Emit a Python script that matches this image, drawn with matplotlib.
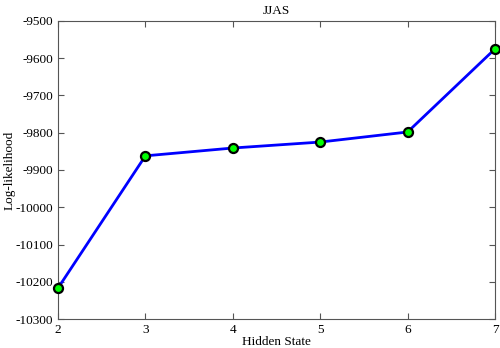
import matplotlib
matplotlib.use("Agg")
import matplotlib.pyplot as plt

states = [2, 3, 4, 5, 6, 7]
loglik = [-10217, -9862, -9841, -9825, -9798, -9575]
yticks = [-10300, -10200, -10100, -10000, -9900, -9800, -9700, -9600, -9500]

plt.rcParams['font.family'] = ['Liberation Serif', 'DejaVu Serif']
fig = plt.figure(figsize=(5, 3.48), dpi=100)
ax = fig.add_axes([0.116, 0.0833, 0.874, 0.8564])
ax.plot(states, loglik, color='#0000ff', lw=2, marker='o', markersize=6.5,
        markerfacecolor='#00ff00', markeredgecolor='black', markeredgewidth=1.6,
        clip_on=False, zorder=3)
ax.set_xlim(2, 7)
ax.set_ylim(-10300, -9500)
ax.set_xticks(states)
ax.set_yticks(yticks)
ax.set_yticklabels([str(v) for v in yticks])
ax.tick_params(direction='in', length=4, labelsize=9.5, colors='#555555', labelcolor='black', top=True, right=True)
for s in ax.spines.values():
    s.set_color('#555555')
    s.set_linewidth(0.8)
ax.set_title('JJAS', fontsize=9.5, pad=5)
ax.set_xlabel('Hidden State', fontsize=9.5, labelpad=0)
ax.set_ylabel('Log-likelihood', fontsize=9.5, labelpad=0)
fig.savefig('out.png', dpi=100)
